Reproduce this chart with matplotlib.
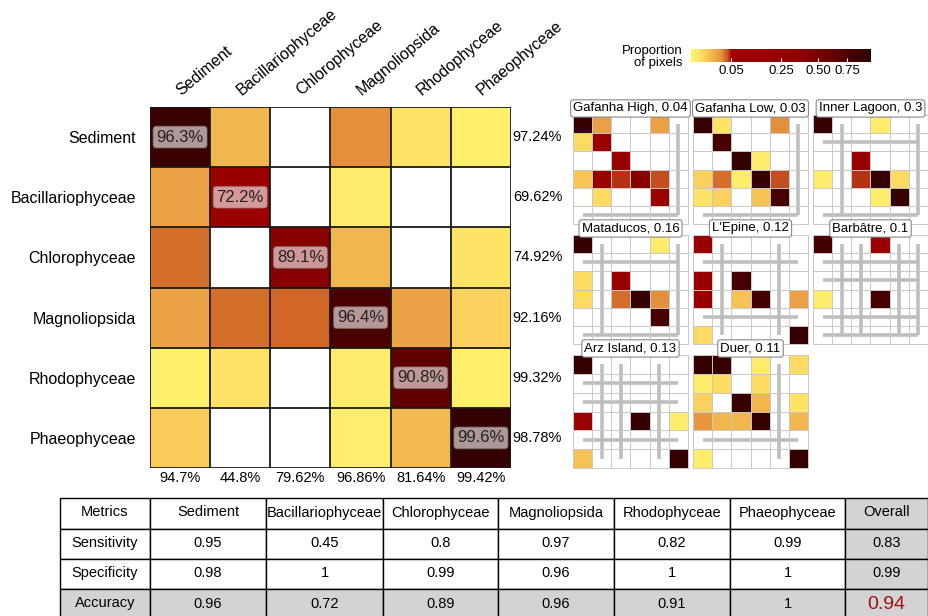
import numpy as np
import matplotlib
matplotlib.use("Agg")
import matplotlib.pyplot as plt
from matplotlib.colors import LinearSegmentedColormap, PowerNorm
from matplotlib.colorbar import ColorbarBase
from matplotlib.patches import Rectangle

plt.rcParams['font.family'] = ['Liberation Sans', 'DejaVu Sans']

# ---- data ----
classes = ["Sediment", "Bacillariophyceae", "Chlorophyceae",
           "Magnoliopsida", "Rhodophyceae", "Phaeophyceae"]

# fill of the overall confusion matrix (proportion of pixels, 0 = empty)
main_prop = np.array([
    [0.90, 0.013, 0, 0.029, 0.0016, 0.0001],
    [0.020, 0.16, 0, 0.0004, 0, 0],
    [0.036, 0, 0.42, 0.013, 0, 0.0016],
    [0.020, 0.036, 0.038, 0.77, 0.020, 0.0056],
    [0.0001, 0.002, 0, 0.0004, 0.64, 0.0001],
    [0.0072, 0, 0, 0.0003, 0.012, 0.94],
])
diag_labels = ["96.3", "72.2", "89.1", "96.4", "90.8", "99.6"]
row_pct = ["97.24%", "69.62%", "74.92%", "92.16%", "99.32%", "98.78%"]
col_pct = ["94.7%", "44.8%", "79.62%", "96.86%", "81.64%", "99.42%"]

site_names = ["Gafanha High, 0.04", "Gafanha Low, 0.03", "Inner Lagoon, 0.3",
              "Mataducos, 0.16", "L'Epine, 0.12", "Barbâtre, 0.1",
              "Arz Island, 0.13", "Duer, 0.11"]
site_props = [
    [[0.92, 0.021, 0, 0, 0.021, 0],
     [0.0036, 0.10, 0, 0, 0, 0],
     [0, 0, 0.10, 0, 0, 0],
     [0.009, 0.10, 0.046, 0.42, 0.042, 0],
     [0, 0.0036, 0, 0, 0.10, 0],
     [0, 0, 0, 0, 0, 0]],
    [[0.92, 0.0016, 0, 0, 0.029, 0],
     [0, 0.80, 0, 0, 0, 0],
     [0, 0, 0.94, 0.0004, 0, 0],
     [0.0064, 0.036, 0.0004, 0.92, 0.042, 0],
     [0.0016, 0.0064, 0, 0.01, 0.80, 0],
     [0, 0, 0, 0, 0, 0]],
    [[0.92, 0, 0, 0.0004, 0, 0],
     [0, 0, 0, 0, 0, 0],
     [0, 0, 0.10, 0, 0, 0],
     [0.0004, 0, 0.045, 0.92, 0.0036, 0],
     [0, 0, 0, 0.0004, 0.92, 0],
     [0, 0, 0, 0, 0, 0]],
    [[0.92, 0, 0, 0, 0.0004, 0],
     [0, 0, 0, 0, 0, 0],
     [0.0030, 0, 0.10, 0, 0, 0],
     [0.0036, 0, 0.036, 0.94, 0.029, 0],
     [0, 0, 0, 0, 0.80, 0],
     [0, 0, 0, 0, 0, 0]],
    [[0.10, 0, 0, 0, 0, 0],
     [0, 0, 0, 0, 0, 0],
     [0.10, 0, 0.80, 0, 0, 0],
     [0.10, 0, 0.01, 0.80, 0, 0.021],
     [0, 0, 0, 0, 0, 0],
     [0.0036, 0, 0, 0, 0, 0.94]],
    [[0.80, 0, 0, 0.10, 0, 0],
     [0, 0, 0, 0, 0, 0],
     [0, 0, 0, 0, 0, 0],
     [0.0004, 0, 0, 0.80, 0, 0],
     [0, 0, 0, 0, 0, 0],
     [0, 0, 0, 0, 0, 0]],
    [[0.92, 0, 0, 0, 0, 0],
     [0, 0, 0, 0, 0, 0],
     [0, 0, 0, 0, 0, 0],
     [0.10, 0, 0, 0.92, 0, 0.0004],
     [0, 0, 0, 0, 0, 0],
     [0.01, 0, 0, 0, 0, 0.94]],
    [[0.94, 0.94, 0, 0.0004, 0, 0.0036],
     [0.0004, 0.0030, 0, 0.0030, 0, 0],
     [0.0064, 0, 0.94, 0.013, 0, 0.0016],
     [0.025, 0.013, 0.013, 0.94, 0, 0.013],
     [0, 0, 0, 0, 0, 0],
     [0.0004, 0, 0, 0, 0, 0.94]],
]
# classes absent from a site (grey guide lines)
site_absent = [[5], [5], [1, 5], [1, 5], [1, 4], [1, 2, 4, 5], [1, 2, 4], [4]]

metric_names = ["Sensitivity", "Specificity", "Accuracy"]
sensitivity = [0.95, 0.45, 0.8, 0.97, 0.82, 0.99, 0.83]
specificity = [0.98, 1, 0.99, 0.96, 1, 1, 0.99]
accuracy = [0.96, 0.72, 0.89, 0.96, 0.91, 1, 0.94]
legend_ticks = [0.05, 0.25, 0.50, 0.75]

# ---- style ----
W, H = 929, 616
cmap = LinearSegmentedColormap.from_list("prop", [
    (0.00, "#FFF36E"), (0.04, "#FEE466"), (0.08, "#FBCF5C"), (0.11, "#F3B850"),
    (0.14, "#ECA446"), (0.17, "#E38E3A"), (0.19, "#D26B2A"), (0.205, "#C24C1E"),
    (0.225, "#9C0000"), (0.45, "#990000"), (0.62, "#8E0000"), (0.75, "#700000"),
    (0.88, "#4A0000"), (1.00, "#2E0000")])
norm = PowerNorm(0.5, vmin=0, vmax=1)

fig = plt.figure(figsize=(W / 100, H / 100), dpi=100)


def px_axes(x0, y0, x1, y1, **kw):
    return fig.add_axes([x0 / W, 1 - y1 / H, (x1 - x0) / W, (y1 - y0) / H], **kw)


# ---- main confusion matrix ----
ax = px_axes(150, 107, 511, 468)
ax.pcolormesh(np.arange(7), np.arange(7), np.ma.masked_equal(main_prop, 0),
              cmap=cmap, norm=norm)
ax.set_xlim(0, 6)
ax.set_ylim(6, 0)
for k in range(7):
    ax.axhline(k, color="#1a1a1a", lw=1.3)
    ax.axvline(k, color="#1a1a1a", lw=1.3)
for s in ax.spines.values():
    s.set_visible(False)
ax.set_xticks([])
ax.set_yticks(np.arange(6) + 0.5)
ax.set_yticklabels(classes, fontsize=11.5)
ax.tick_params(axis="y", length=0, pad=10)
for i in range(6):
    ax.text(i + 0.5, i + 0.5, diag_labels[i] + "%", ha="center", va="center",
            fontsize=12, color="#222222",
            bbox=dict(boxstyle="round,pad=0.2", fc="white", ec="#777777",
                      alpha=0.6, lw=0.8))
    ax.text(6.03, i + 0.5, row_pct[i], ha="left", va="center", fontsize=10.5)
    ax.text(i + 0.5, 6.05, col_pct[i], ha="center", va="top", fontsize=10.5)
    ax.text(i + 0.55, -0.15, classes[i], rotation=40, ha="left", va="bottom",
            rotation_mode="anchor", fontsize=11.5)

# ---- per-site panels ----
panel_x = [(573, 688), (693, 808), (813, 928)]
panel_y = [(115, 224), (235, 344), (355, 468)]
for k, name in enumerate(site_names):
    x0, x1 = panel_x[k % 3]
    y0, y1 = panel_y[k // 3]
    sa = px_axes(x0, y0, x1, y1)
    vals = np.array(site_props[k])
    for a in site_absent[k]:
        sa.plot([0.5, 5.5], [a + 0.5, a + 0.5], color="#BEBEBE", lw=2.6,
                solid_capstyle="butt", zorder=1)
        sa.plot([a + 0.5, a + 0.5], [0.5, 5.5], color="#BEBEBE", lw=2.6,
                solid_capstyle="butt", zorder=1)
    sa.pcolormesh(np.arange(7), np.arange(7), np.ma.masked_equal(vals, 0),
                  cmap=cmap, norm=norm, zorder=2)
    for g in range(7):
        sa.axhline(g, color="#C8C8C8", lw=0.7, zorder=3)
        sa.axvline(g, color="#C8C8C8", lw=0.7, zorder=3)
    sa.set_xlim(0, 6)
    sa.set_ylim(6, 0)
    sa.set_xticks([])
    sa.set_yticks([])
    for s in sa.spines.values():
        s.set_color("#C8C8C8")
        s.set_linewidth(0.7)
    sa.text(0.5, 1.005, name, transform=sa.transAxes, ha="center", va="bottom",
            fontsize=9.5, zorder=5,
            bbox=dict(boxstyle="round,pad=0.2", fc="white", ec="#888888", lw=0.8))

# ---- legend ----
cax = px_axes(691, 49, 871, 62)
cb = ColorbarBase(cax, cmap=cmap, norm=norm, orientation="horizontal",
                  ticks=legend_ticks)
cb.outline.set_visible(False)
cb.ax.set_xticklabels([f"{t:.2f}" for t in legend_ticks], fontsize=9.5)
cb.ax.tick_params(axis="x", length=3, color="white", direction="in", pad=2)
fig.text(683 / W, 1 - 57 / H, "Proportion\nof pixels", ha="right", va="center",
         fontsize=9.5, linespacing=1.1)

# ---- metrics table ----
tab = fig.add_axes([0, 0, 1, 1], zorder=-1)
tab.set_xlim(0, W)
tab.set_ylim(H, 0)
tab.axis("off")
col_edges = [60, 150, 266, 383, 498, 614, 730, 845, 928]
row_edges = [498, 529, 559, 589, 620]
header = ["Metrics"] + classes + ["Overall"]
rows = [header] + [[m] + [f"{v:g}" for v in vals]
                   for m, vals in zip(metric_names, [sensitivity, specificity, accuracy])]
n_cols = len(col_edges) - 1
for r in range(len(rows)):
    for c in range(n_cols):
        gray = (c == n_cols - 1) or (r == len(rows) - 1)
        tab.add_patch(Rectangle((col_edges[c], row_edges[r]),
                                col_edges[c + 1] - col_edges[c],
                                row_edges[r + 1] - row_edges[r],
                                fc="#D3D3D3" if gray else "white",
                                ec="black", lw=1.0))
        is_total = (r == len(rows) - 1) and (c == n_cols - 1)
        tab.text((col_edges[c] + col_edges[c + 1]) / 2,
                 (row_edges[r] + row_edges[r + 1]) / 2 - (1 if not is_total else 0),
                 rows[r][c], ha="center", va="center",
                 fontsize=14 if is_total else 10.5,
                 color="#A01010" if is_total else "black")

fig.savefig("out.png", dpi=100)
